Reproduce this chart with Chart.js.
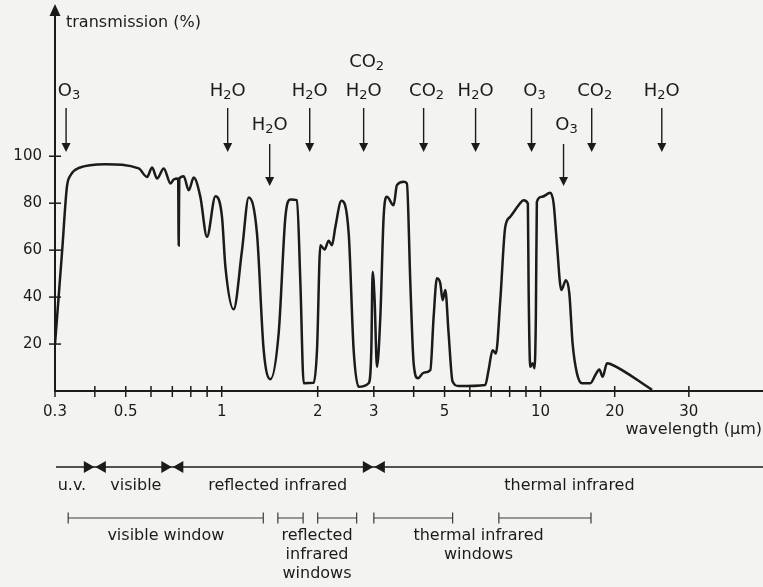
<!DOCTYPE html>
<html>
<head>
<meta charset="utf-8">
<script src="https://cdn.jsdelivr.net/npm/chart.js@4/dist/chart.umd.min.js"></script>
<style>
    html, body { margin: 0; padding: 0; background: #f3f3f1; }
</style>
</head>
<body>
<canvas id="spectrum" width="763" height="587"></canvas>
<script>
// atmospheric transmission curve, wavelength in µm / transmission in %
const wavelength = [
    0.300, 0.316, 0.327, 0.336, 0.356, 0.432, 0.549, 0.583, 0.605, 0.627,
    0.658, 0.691, 0.707, 0.730, 0.733, 0.736, 0.760, 0.788, 0.817, 0.857,
    0.899, 0.956, 1.002, 1.027, 1.090, 1.158, 1.215, 1.290, 1.354, 1.421,
    1.509, 1.584, 1.642, 1.722, 1.765, 1.808, 1.943, 1.990, 2.039, 2.102,
    2.165, 2.217, 2.272, 2.373, 2.502, 2.593, 2.689, 2.889, 2.946, 2.974,
    3.017, 3.068, 3.144, 3.220, 3.298, 3.461, 3.544, 3.720, 3.809, 3.905,
    3.999, 4.125, 4.298, 4.511, 4.620, 4.731, 4.849, 4.930, 5.027, 5.147,
    5.298, 5.533, 6.708, 6.871, 7.072, 7.243, 7.477, 7.750, 8.035, 8.531,
    8.845, 9.125, 9.170, 9.284, 9.439, 9.576, 9.667, 9.737, 10.18, 11.31,
    11.76, 12.20, 12.80, 13.42, 13.88, 14.32, 14.91, 15.58, 16.72, 17.39,
    17.93, 18.38, 18.96, 19.42, 25.04
];
const transmission = [
    20, 60, 87, 92, 95, 96.6, 94.8, 91.2, 95.2, 90.5,
    94.8, 88.4, 90.1, 90.5, 62, 90.5, 91.5, 85.5, 90.9, 82.7,
    65.7, 83, 74.2, 52.9, 34.8, 60, 82.4, 67.1, 17.4, 5.0,
    24.7, 74.2, 81.6, 81.3, 46, 3.3, 3.5, 17.4, 62.1, 60.3,
    64, 62.1, 69.9, 81, 67.1, 17.4, 1.8, 3.3, 17.4, 50.8,
    38.7, 10.3, 31.6, 74.2, 82.7, 79.1, 87.7, 89.1, 88.4, 45.8,
    11.8, 5.4, 7.8, 8.9, 31.6, 48, 45.8, 38.7, 43, 24.6,
    4.0, 2.1, 2.6, 8.9, 17.4, 16, 38.7, 69.9, 74.2, 79.1,
    81.3, 79.9, 46, 10.3, 11.8, 9.7, 31.6, 80.6, 82.7, 84.4,
    79.9, 62.9, 43, 47.2, 41.6, 20.3, 7.5, 3.3, 3.3, 6.8,
    9.2, 6.1, 11.8, 11.5, 0.5
];

const xTickValues = [0.3, 0.4, 0.5, 0.6, 0.7, 0.8, 0.9, 1, 2, 3, 4, 5, 6, 7, 8, 9, 10, 20, 30];
const xTickLabels = ['0.3', '', '0.5', '', '', '', '', '1', '2', '3', '', '5', '', '', '', '', '10', '20', '30'];
const yTickValues = [20, 40, 60, 80, 100];

// absorbing gases and the wavelength each arrow points at
const gasNames = ['O3', 'H2O', 'H2O', 'H2O', 'CO2|H2O', 'CO2', 'H2O', 'O3', 'O3', 'CO2', 'H2O'];
const gasWavelength = [0.325, 1.044, 1.414, 1.888, 2.787, 4.298, 6.255, 9.37, 13.1, 16.9, 26.35];
const gasLowRow = [false, false, true, false, false, false, false, false, true, false, false];

// spectral regions
const regionNames = ['u.v.', 'visible', 'reflected infrared', 'thermal infrared'];
const regionCentres = [0.339, 0.538, 1.498, 13.9];
const regionBounds = [0.4, 0.7, 3];

// atmospheric windows
const windowRanges = [[0.33, 1.35], [1.5, 1.8], [2.0, 2.65], [3.0, 5.3], [7.4, 16.8]];
const windowNames = [['visible window'], ['reflected', 'infrared', 'windows'], ['thermal infrared', 'windows']];
const windowCentres = [0.668, 1.99, 6.39];

// log spacing up to 10 µm, then linear beyond (µm per decade of the log part)
const LIN_SPAN = 43;
function axisPos(w) {
    return w <= 10 ? Math.log10(w) : 1 + (w - 10) / LIN_SPAN;
}

const FONT = '"DejaVu Sans", sans-serif';
const INK = '#1b1b1b';

// chemical formula with subscript digits, centred on cx
function drawFormula(ctx, text, cx, y) {
    const parts = text.match(/\d+|\D+/g);
    const big = '18px ' + FONT, small = '13px ' + FONT;
    let w = 0;
    parts.forEach(p => {
        ctx.font = /\d/.test(p) ? small : big;
        w += ctx.measureText(p).width;
    });
    // a trailing subscript hangs to the right of the arrow
    let x = cx - w / 2 + (/\d$/.test(text) ? 3 : 0);
    ctx.textAlign = 'left';
    ctx.textBaseline = 'alphabetic';
    parts.forEach(p => {
        const sub = /\d/.test(p);
        ctx.font = sub ? small : big;
        ctx.fillText(p, x, sub ? y + 3 : y);
        x += ctx.measureText(p).width;
    });
}

function downArrow(ctx, x, y0, y1) {
    ctx.lineWidth = 1.4;
    ctx.beginPath();
    ctx.moveTo(x, y0);
    ctx.lineTo(x, y1 - 8);
    ctx.stroke();
    ctx.beginPath();
    ctx.moveTo(x - 4.5, y1 - 9);
    ctx.lineTo(x + 4.5, y1 - 9);
    ctx.lineTo(x, y1);
    ctx.closePath();
    ctx.fill();
}

function text(ctx, str, x, y, align, size) {
    ctx.font = (size || 16) + 'px ' + FONT;
    ctx.textAlign = align || 'center';
    ctx.textBaseline = 'middle';
    ctx.fillText(str, x, y);
}

const paper = {
    id: 'paper',
    beforeDraw(chart) {
        const ctx = chart.ctx;
        ctx.save();
        ctx.fillStyle = '#f3f3f1';
        ctx.fillRect(0, 0, chart.width, chart.height);
        ctx.restore();
    }
};

const notes = {
    id: 'notes',
    afterDraw(chart) {
        const ctx = chart.ctx;
        const xs = chart.scales.x, ys = chart.scales.y;
        const area = chart.chartArea;
        const px = w => xs.getPixelForValue(axisPos(w));
        ctx.save();
        ctx.strokeStyle = INK;
        ctx.fillStyle = INK;
        ctx.lineCap = 'butt';

        // axes
        ctx.lineWidth = 2;
        ctx.beginPath();
        ctx.moveTo(area.left, 14);
        ctx.lineTo(area.left, area.bottom);
        ctx.lineTo(chart.width, area.bottom);
        ctx.stroke();
        ctx.beginPath();
        ctx.moveTo(area.left - 5.5, 16);
        ctx.lineTo(area.left + 5.5, 16);
        ctx.lineTo(area.left, 4);
        ctx.closePath();
        ctx.fill();

        ctx.lineWidth = 1.5;
        xTickValues.forEach(v => {
            const x = px(v);
            ctx.beginPath();
            ctx.moveTo(x, area.bottom - 5);
            ctx.lineTo(x, area.bottom + 6);
            ctx.stroke();
        });
        yTickValues.forEach(v => {
            const y = ys.getPixelForValue(v);
            ctx.beginPath();
            ctx.moveTo(area.left - 6, y);
            ctx.lineTo(area.left + 6, y);
            ctx.stroke();
        });

        text(ctx, 'transmission (%)', 66, 23, 'left');
        text(ctx, 'wavelength (µm)', 762, 430, 'right');

        // absorption arrows
        gasNames.forEach((name, i) => {
            const x = px(gasWavelength[i]);
            if (gasLowRow[i]) {
                drawFormula(ctx, name, x, 129.5);
                downArrow(ctx, x, 144, 186);
            } else {
                const lines = name.split('|');
                lines.forEach((l, k) => drawFormula(ctx, l, x, 96 - (lines.length - 1 - k) * 29));
                downArrow(ctx, x, 108, 152);
            }
        });

        // spectral regions
        const ry = 467;
        ctx.lineWidth = 1.5;
        ctx.beginPath();
        ctx.moveTo(area.left + 1, ry);
        ctx.lineTo(chart.width, ry);
        ctx.stroke();
        regionBounds.forEach(b => {
            const x = px(b);
            ctx.beginPath();
            ctx.moveTo(x - 11, ry - 6);
            ctx.lineTo(x - 11, ry + 6);
            ctx.lineTo(x - 0.5, ry);
            ctx.closePath();
            ctx.moveTo(x + 11, ry - 6);
            ctx.lineTo(x + 11, ry + 6);
            ctx.lineTo(x + 0.5, ry);
            ctx.closePath();
            ctx.fill();
        });
        regionNames.forEach((n, i) => text(ctx, n, px(regionCentres[i]), 486));

        // atmospheric windows
        const wy = 518;
        ctx.strokeStyle = '#3a3a3a';
        ctx.lineWidth = 1.2;
        windowRanges.forEach(([a, b]) => {
            const x0 = px(a), x1 = px(b);
            ctx.beginPath();
            ctx.moveTo(x0, wy);
            ctx.lineTo(x1, wy);
            ctx.moveTo(x0, wy - 5.5);
            ctx.lineTo(x0, wy + 5.5);
            ctx.moveTo(x1, wy - 5.5);
            ctx.lineTo(x1, wy + 5.5);
            ctx.stroke();
        });
        windowNames.forEach((lines, i) => {
            lines.forEach((l, k) => text(ctx, l, px(windowCentres[i]), 536 + k * 19));
        });
        ctx.restore();
    }
};

new Chart(document.getElementById('spectrum'), {
    type: 'line',
    data: {
        datasets: [{
            data: wavelength.map((w, i) => ({x: axisPos(w), y: transmission[i]})),
            borderColor: INK,
            borderWidth: 2.5,
            pointRadius: 0,
            fill: false,
            cubicInterpolationMode: 'monotone'
        }]
    },
    options: {
        responsive: false,
        animation: false,
        layout: {padding: {top: 6, right: 0, bottom: 0, left: 0}},
        plugins: {legend: {display: false}, tooltip: {enabled: false}},
        scales: {
            x: {
                type: 'linear',
                min: axisPos(0.3),
                max: axisPos(40),
                grid: {display: false, drawTicks: false},
                border: {display: false},
                afterBuildTicks: s => { s.ticks = xTickValues.map(v => ({value: axisPos(v)})); },
                afterFit: s => { s.height = 196; s.paddingLeft = 0; s.paddingRight = 0; },
                ticks: {
                    autoSkip: false,
                    maxRotation: 0,
                    padding: 12,
                    color: INK,
                    font: {family: FONT, size: 15},
                    callback: (v, i) => xTickLabels[i]
                }
            },
            y: {
                min: 0,
                max: 164,
                grid: {display: false, drawTicks: false},
                border: {display: false},
                afterBuildTicks: s => { s.ticks = yTickValues.map(v => ({value: v})); },
                afterFit: s => { s.width = 55; s.paddingTop = 0; s.paddingBottom = 0; },
                ticks: {
                    padding: 13,
                    color: INK,
                    font: {family: FONT, size: 15},
                    callback: v => String(v)
                }
            }
        }
    },
    plugins: [paper, notes]
});
</script>
</body>
</html>
